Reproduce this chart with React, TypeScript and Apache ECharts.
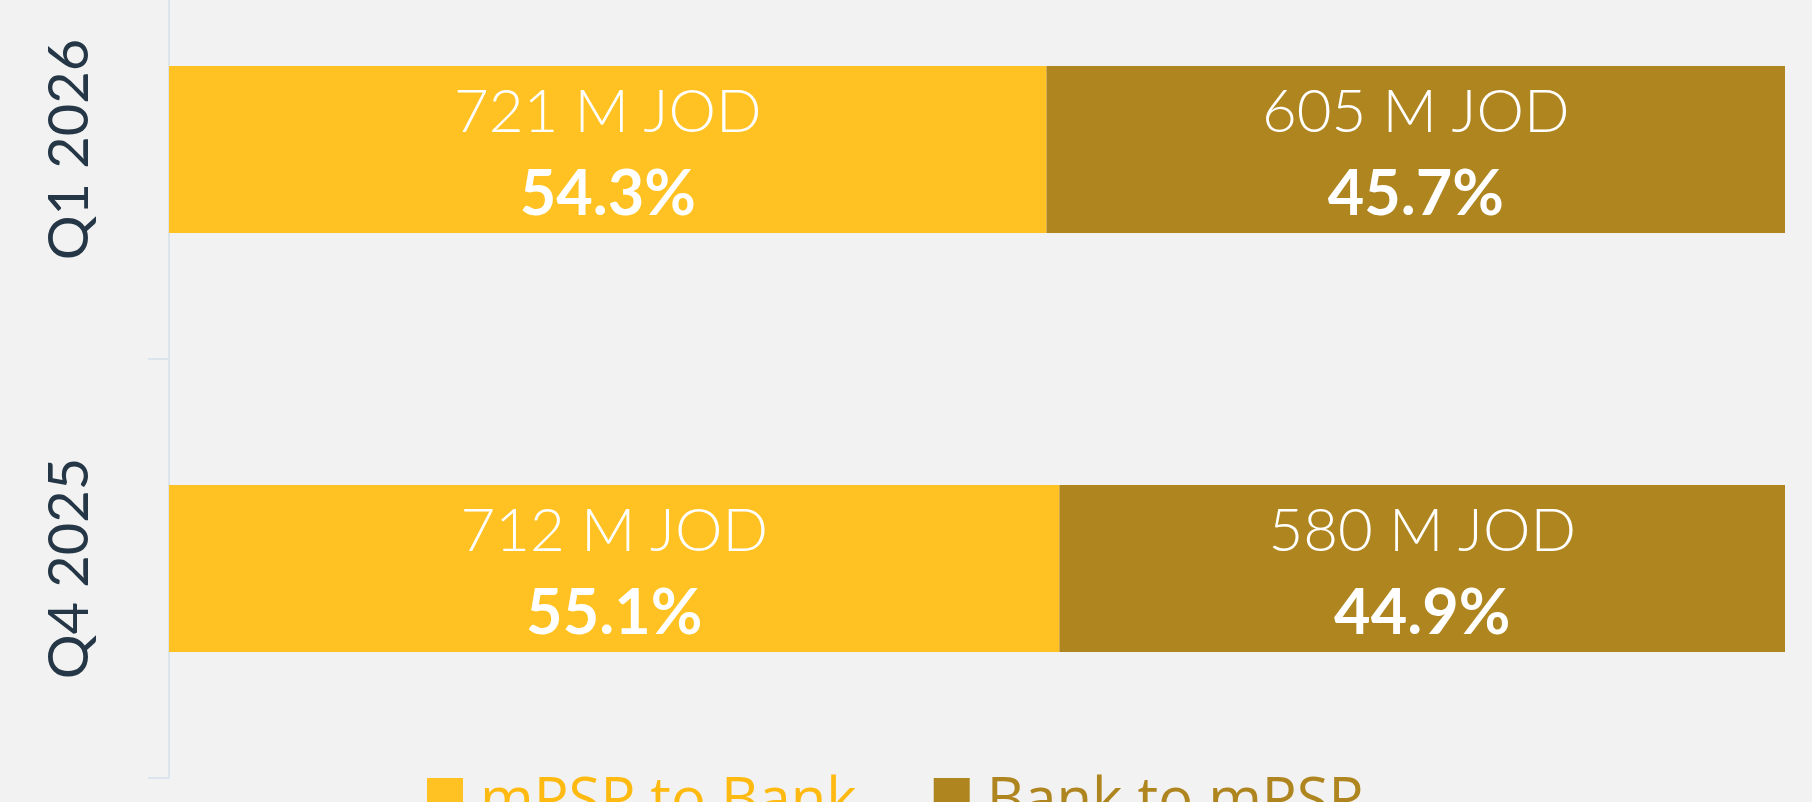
import React, { useEffect, useRef } from "react";
import * as echarts from "echarts";

const categories = ["Q4 2025", "Q1 2026"];
const seriesNames = ["mPSP to Bank", "Bank to mPSP"];
const mpspToBankPct = [55.1, 54.3];
const bankToMpspPct = [44.9, 45.7];
const mpspToBankAmount = [712, 721];
const bankToMpspAmount = [580, 605];

const COLORS = ["#FFC222", "#AF851F"];
const LEGEND_COLORS = ["#FFBA12", "#AF851F"];

const OFFSET = 60;

export default function App() {
  const ref = useRef<HTMLDivElement>(null);
  useEffect(() => {
    if (!ref.current) return;
    const chart = echarts.init(ref.current, null, { renderer: "svg" });
    const amounts = [mpspToBankAmount, bankToMpspAmount];
    const pcts = [mpspToBankPct, bankToMpspPct];
    const labelRich = {
      a: { fontFamily: "Lato", fontWeight: 300, fontSize: 60, lineHeight: 82, color: "#ffffff" },
      b: { fontFamily: "Lato", fontWeight: 700, fontSize: 63, lineHeight: 82, color: "#ffffff" },
    };
    chart.setOption({
      animation: false,
      backgroundColor: "#F2F2F2",
      grid: { left: 169, right: 27, top: 0, bottom: 24, containLabel: false },
      xAxis: { type: "value", min: 0, max: 100, show: false },
      yAxis: {
        type: "category",
        data: categories,
        axisLine: { show: true, lineStyle: { color: "#DCE4EE", width: 2 } },
        axisTick: { show: true, length: 21, lineStyle: { color: "#DCE4EE", width: 2 } },
        axisLabel: {
          rotate: 90,
          margin: 75,
          fontFamily: "Lato",
          fontSize: 56,
          color: "#253746",
        },
        splitLine: { show: false },
      },
      legend: {
        top: 762 + OFFSET,
        left: 422,
        icon: "rect",
        itemWidth: 36,
        itemHeight: 36,
        itemGap: 77,
        data: seriesNames.map((n, i) => ({ name: n, textStyle: { color: LEGEND_COLORS[i] } })),
        textStyle: { fontFamily: "Open Sans", fontSize: 58, padding: [0, 0, 0, 12] },
      },
      series: seriesNames.map((name, si) => ({
        name,
        type: "bar",
        stack: "total",
        barWidth: 167,
        itemStyle: { color: COLORS[si] },
        label: {
          show: true,
          position: "inside",
          formatter: (p: any) =>
            `{a|${amounts[si][p.dataIndex]} M JOD}\n{b|${pcts[si][p.dataIndex].toFixed(1)}%}`,
          rich: labelRich,
        },
        data: pcts[si],
      })),
    });
    return () => chart.dispose();
  }, []);
  return (
    <div
      ref={ref}
      style={{ position: "absolute", left: 0, top: -OFFSET, width: 1812, height: 802 + OFFSET }}
    />
  );
}
